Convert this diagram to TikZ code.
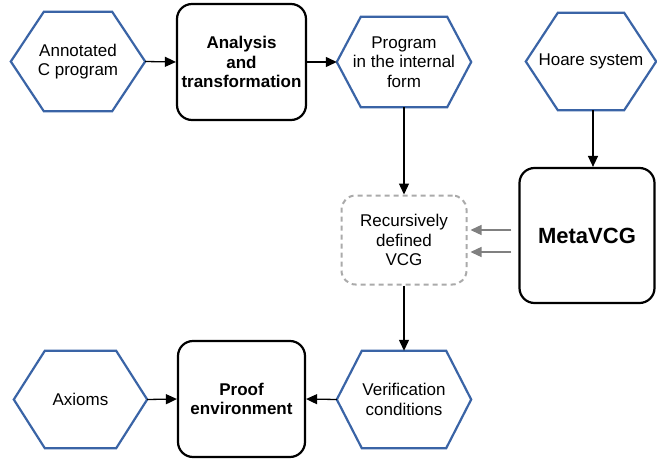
\documentclass[tikz,border=0pt]{standalone}
\usepackage{fontspec}
\setmainfont{Liberation Sans}
\usetikzlibrary{arrows.meta,calc}
\definecolor{hexblue}{HTML}{3A64A6}
\definecolor{dashgray}{HTML}{AAAAAA}
\definecolor{arrgray}{HTML}{808080}
\tikzset{
  hexnode/.style={inner sep=0pt, align=center, font=\fontsize{17}{19.5}\selectfont},
  hexline/.style={draw=hexblue, line width=2.2pt, line join=miter},
  procbox/.style={draw=black, line width=2.2pt, rounded corners=15pt, inner sep=0pt, align=center, font=\fontsize{17}{19.5}\selectfont\bfseries},
  dashbox/.style={draw=dashgray, line width=2pt, dash pattern=on 5pt off 4pt, rounded corners=14pt, inner sep=0pt, align=center, font=\fontsize{17}{19.5}\selectfont},
  flow/.style={draw=black, line width=1.3pt, -{Triangle[length=11pt,width=10pt]}},
  grayflow/.style={draw=arrgray, line width=1.3pt, -{Triangle[length=11pt,width=10pt]}},
}
\newcommand{\hexdraw}[2]{%
  \draw[hexline] (#1.west) -- ([xshift=#2]#1.north west) -- ([xshift=-#2]#1.north east)
    -- (#1.east) -- ([xshift=-#2]#1.south east) -- ([xshift=#2]#1.south west) -- cycle;}
\begin{document}
\begin{tikzpicture}[x=1pt,y=-1pt]
\useasboundingbox (0,0) rectangle (657,461);
% hexagons
\node[hexnode, minimum width=134pt, minimum height=99pt] (ann) at (78,61.5) {Annotated\\C program};
\hexdraw{ann}{33pt}
\node[hexnode, minimum width=134pt, minimum height=90pt] (prog) at (404,62) {Program\\in the internal\\form};
\hexdraw{prog}{24pt}
\node[hexnode, minimum width=130pt, minimum height=97pt] (hoare) at (591,61.5) {Hoare system};
\hexdraw{hoare}{32pt}
\node[hexnode, minimum width=134pt, minimum height=97pt] (ver) at (404,399.5) {Verification\\conditions};
\hexdraw{ver}{25pt}
\node[hexnode, minimum width=133pt, minimum height=97pt] (ax) at (80.5,399.5) {Axioms};
\hexdraw{ax}{31pt}
% boxes
\node[procbox, minimum width=129pt, minimum height=116pt] (ana) at (241.5,62) {Analysis\\and\\transformation};
\node[procbox, minimum width=135pt, minimum height=135pt, font=\fontsize{22}{26}\selectfont\bfseries] (meta) at (587,235.5) {MetaVCG};
\node[procbox, minimum width=127pt, minimum height=116pt] (proof) at (241.5,399) {Proof\\environment};
\node[dashbox, minimum width=125pt, minimum height=89pt] (rec) at (404,240) {Recursively\\defined\\VCG};
% connectors
\draw[flow] (ann.east) -- (ana.west);
\draw[flow] (ana.east) -- (prog.west);
\draw[flow] (prog.south) -- (rec.north);
\draw[flow] (hoare.south -| 593,0) -- (meta.north -| 593,0);
\draw[flow] (rec.south) -- (ver.north);
\draw[flow] (ax.east) -- (proof.west);
\draw[flow] (ver.west) -- (proof.east);
\draw[grayflow] ([xshift=-7pt]meta.west |- 0,230) -- ([xshift=3pt]rec.east |- 0,230);
\draw[grayflow] ([xshift=-7pt]meta.west |- 0,252) -- ([xshift=3pt]rec.east |- 0,252);
\end{tikzpicture}
\end{document}
